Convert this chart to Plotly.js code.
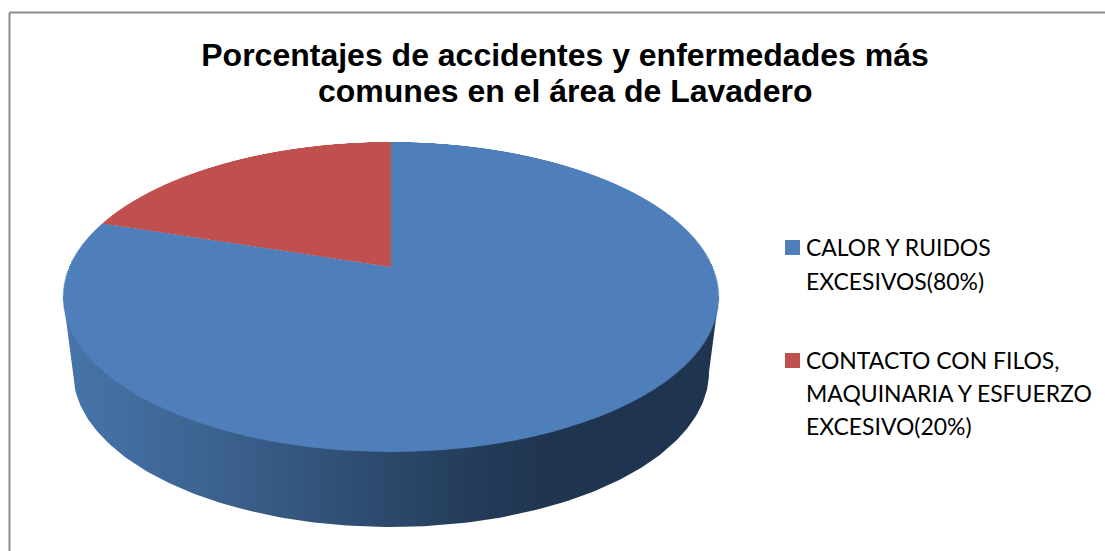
<!DOCTYPE html>
<html>
<head>
<meta charset="utf-8">
<script src="https://cdn.plot.ly/plotly-3.0.1.min.js"></script>
<style>
html,body{margin:0;padding:0;background:#fff;overflow:hidden;width:1105px;height:551px}
#base{position:absolute;left:0;top:0;width:1105px;height:551px}
#pie{position:absolute;left:0;top:0;width:644px;height:644px;transform-origin:0 0;pointer-events:none}
</style>
</head>
<body>
<div id="base"></div>
<div id="pie"></div>
<script>
const titleLines = ["Porcentajes de accidentes y enfermedades más", "comunes en el área de Lavadero"];
const categories = ["CALOR Y RUIDOS EXCESIVOS(80%)", "CONTACTO CON FILOS, MAQUINARIA Y ESFUERZO EXCESIVO(20%)"];
const shares = [80, 20];
const sliceColors = ["#4e7fba", "#c0504e"];
const legendLines = [
  ["CALOR Y RUIDOS", "EXCESIVOS(80%)"],
  ["CONTACTO CON FILOS,", "MAQUINARIA Y ESFUERZO", "EXCESIVO(20%)"]
];
const legendLineY = [[247, 281], [360, 392.5, 425.5]];
const wallStops = [[0,"#4675aa"],[0.12,"#416b9d"],[0.22,"#3d6390"],[0.36,"#34567e"],[0.5,"#2c486b"],[0.62,"#253d5b"],[0.74,"#1f344e"],[1,"#1f344e"]];

// Projection of the unit disc onto the tilted top face
const S = 322, cx = 391, tipY = 267, topY = 142, botY = 452, halfW = 328;
const a = (topY + botY - 2 * tipY) / (botY - topY);
const b = topY * (1 + a) - tipY;
const R = halfW * Math.sqrt(1 - a * a);
document.getElementById("pie").style.transform = "matrix3d(" + [
  R / S, 0, 0, 0,
  -cx * a / S, -b / S, 0, -a / S,
  0, 0, 1, 0,
  cx * (1 + a) - R, tipY + b, 0, 1 + a
].join(",") + ")";

// Side wall outline: lower half of the base ellipse joined to the top rim
const wallCy = 372, wallRy = 155, wallRx = 318, rimY = 296, wallX = [cx - halfW], wallY = [rimY];
for (let i = 0; i <= 180; i++) {
  const t = Math.PI - i * Math.PI / 180;
  wallX.push(cx + wallRx * Math.cos(t));
  wallY.push(wallCy + wallRy * Math.sin(t));
}
wallX.push(cx + halfW); wallY.push(rimY);

const titleFont = {family:"'Liberation Sans', Arial, sans-serif", size:32, color:"#000", weight:700};
const annotations = [{
  text: titleLines[1], xref:"x", yref:"y", x:565, y:91, xanchor:"center", yanchor:"middle",
  showarrow:false, font:titleFont
}], shapes = [
  {type:"line", xref:"x", yref:"y", x0:9.5, y0:12.5, x1:1105, y1:12.5, line:{color:"#8c8c8c", width:2}},
  {type:"line", xref:"x", yref:"y", x0:9.5, y0:12.5, x1:9.5, y1:551, line:{color:"#8c8c8c", width:2}}
];
legendLines.forEach((lines, i) => {
  lines.forEach((txt, j) => annotations.push({
    text: txt, xref:"x", yref:"y", x:806, y:legendLineY[i][j], xanchor:"left", yanchor:"middle",
    showarrow:false, align:"left", xshift:-2, font:{family:"Lato, 'Open Sans', sans-serif", size:22.95, color:"#000"}
  }));
  const my = legendLineY[i][0] + 0.5;
  shapes.push({type:"rect", xref:"x", yref:"y", x0:785, x1:800, y0:my-7.5, y1:my+7.5, fillcolor:sliceColors[i], line:{width:0}});
});

Plotly.newPlot("base", [{
  type:"scatter", mode:"lines", x:wallX, y:wallY, fill:"toself", line:{width:0},
  fillgradient:{type:"horizontal", colorscale:wallStops}, hoverinfo:"skip", showlegend:false
}], {
  width:1105, height:551, margin:{l:0,r:0,t:0,b:0}, paper_bgcolor:"#fff", plot_bgcolor:"#fff", showlegend:false,
  title:{text:titleLines[0], x:565/1105, xanchor:"center", xref:"paper", y:1-55/551, yanchor:"middle", yref:"container", font:titleFont},
  xaxis:{range:[0,1105], visible:false, fixedrange:true},
  yaxis:{range:[551,0], visible:false, fixedrange:true},
  annotations, shapes
}, {staticPlot:true, displayModeBar:false});

Plotly.newPlot("pie", [{
  type:"pie", labels:categories, values:shares, sort:false, direction:"clockwise", rotation:0,
  textinfo:"none", hoverinfo:"skip", marker:{colors:sliceColors, line:{width:0}}, domain:{x:[0,1],y:[0,1]}
}], {
  width:644, height:644, margin:{l:0,r:0,t:0,b:0}, paper_bgcolor:"rgba(0,0,0,0)", showlegend:false
}, {staticPlot:true, displayModeBar:false});
</script>
</body>
</html>
